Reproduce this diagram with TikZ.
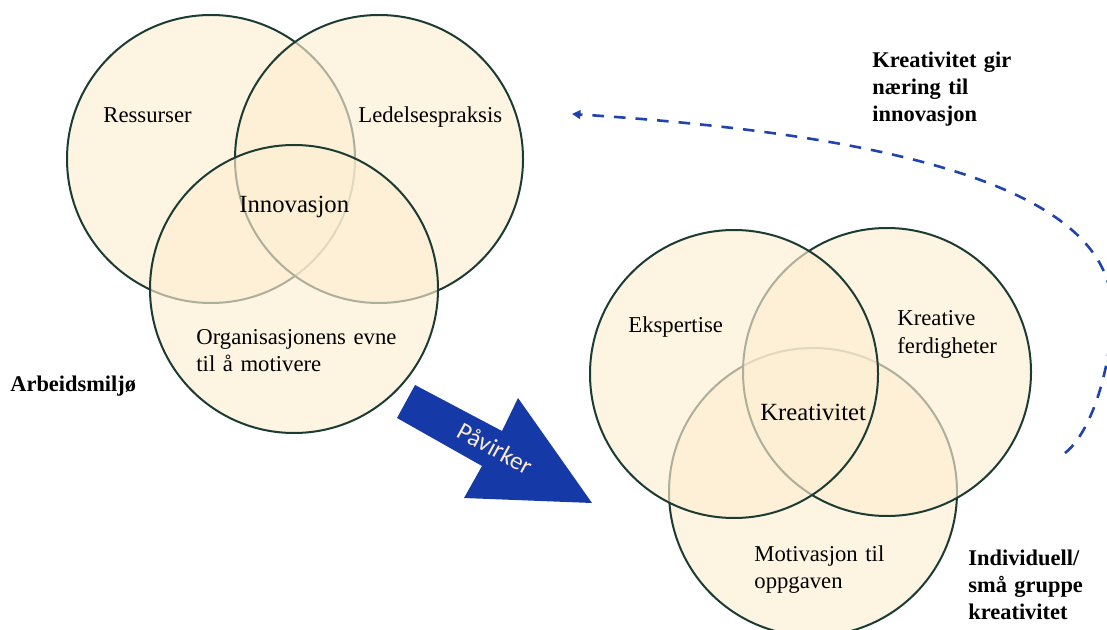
\documentclass[tikz,border=0pt]{standalone}
\usepackage{fontspec}
\setmainfont{Liberation Serif}
\newfontfamily\arrowfont{Carlito}
\usetikzlibrary{arrows.meta}

\definecolor{vennfill}{HTML}{FDEED2}
\definecolor{vennline}{HTML}{1B3B33}
\definecolor{arrowblue}{HTML}{1539A6}
\definecolor{dashblue}{HTML}{2043B0}
\definecolor{arrowtext}{HTML}{FBEBD2}

\tikzset{
	venn/.style={circle, draw=vennline, line width=1pt, fill=vennfill, fill opacity=0.65, minimum size=144pt, inner sep=0pt},
	vennlabel/.style={anchor=base west, inner sep=0pt, text width=150pt, align=left, font=\fontsize{11.35}{13.5}\selectfont},
	corelabel/.style={anchor=base west, inner sep=0pt, font=\fontsize{12.35}{14}\selectfont},
	grouplabel/.style={anchor=base west, inner sep=0pt, text width=150pt, align=left, font=\bfseries\fontsize{11.2}{13.5}\selectfont}
}

\begin{document}
\begin{tikzpicture}[x=0.5pt, y=-0.5pt]

	\useasboundingbox (0,0) rectangle (1107,630);

	\draw (211, 159) node (ressurser) [venn] {};
	\draw (379, 159) node (ledelse) [venn] {};
	\draw (294, 289) node (motivere) [venn] {};

	\draw (813, 492) node (oppgaven) [venn] {};
	\draw (887, 372) node (ferdigheter) [venn] {};
	\draw (734, 374) node (ekspertise) [venn] {};

	\draw (103, 123) node (ressurserlbl) [vennlabel] {Ressurser};
	\draw (358, 123) node (ledelselbl) [vennlabel] {Ledelsespraksis};
	\draw (239, 213) node (innovasjon) [corelabel] {Innovasjon};
	\draw (196, 344) node (motiverelbl) [vennlabel] {Organisasjonens evne\\til å motivere};
	\draw (10, 391) node (arbeidsmiljo) [grouplabel] {Arbeidsmiljø};

	\draw (628, 333) node (ekspertiselbl) [vennlabel] {Ekspertise};
	\draw (897, 326) node (ferdigheterlbl) [vennlabel] {Kreative\\ferdigheter};
	\draw (760, 420) node (kreativitet) [corelabel] {Kreativitet};
	\draw (754, 561) node (oppgavenlbl) [vennlabel] {Motivasjon til\\oppgaven};
	\draw (968, 565) node (individuell) [grouplabel] {Individuell/\\små gruppe\\kreativitet};
	\draw (872, 68) node (naering) [grouplabel] {Kreativitet gir\\næring til\\innovasjon};

	\fill[arrowblue] (415, 385) -- (502, 431) -- (518, 398) -- (592, 503) -- (464, 498) -- (482, 466) -- (397, 418) -- cycle;
	\draw (495, 448) node (pavirker) [rotate=-28.6, text=arrowtext, font=\arrowfont\fontsize{12.5}{14}\selectfont] {Påvirker};

	\coordinate (kreaend) at (1065, 453);
	\coordinate (innoend) at (572, 114);
	\draw[dashblue, line width=1.3pt, dash pattern=on 5.8pt off 5pt, -{Triangle[length=4.2pt, width=4.4pt]}] (kreaend) .. controls (1092, 432) and (1112, 365) .. (1112, 310) .. controls (1112, 190) and (900, 135) .. (innoend);

\end{tikzpicture}
\end{document}
